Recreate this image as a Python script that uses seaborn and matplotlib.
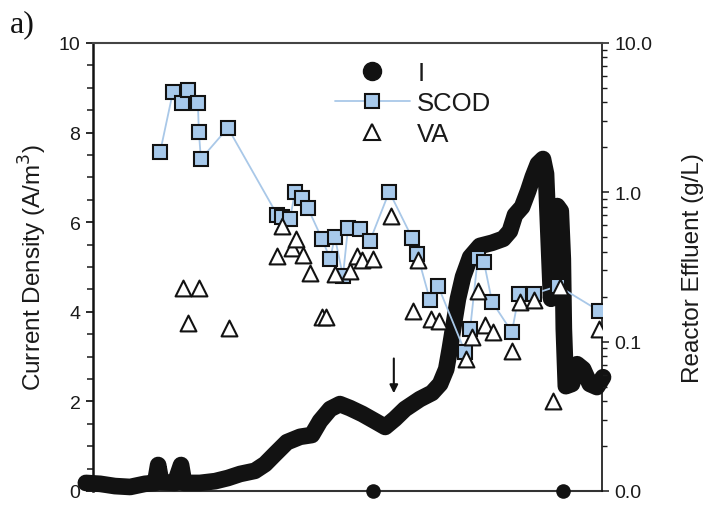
import matplotlib
matplotlib.use("Agg")
import matplotlib.pyplot as plt
import seaborn as sns
import pandas as pd
from matplotlib.lines import Line2D
from matplotlib.ticker import FixedLocator, MultipleLocator, FormatStrFormatter, LogLocator, NullFormatter

# ---------------- data ----------------
# current density trace (time in arbitrary units 0-100, A/m3)
current_time = [-1.4, 1.4, 4.3, 7.3, 10.2, 12.2, 12.8, 13.4, 16.1, 17.3, 17.9, 21.0,
                24.0, 26.5, 28.9, 31.8, 33.8, 35.8, 38.1, 40.7, 43.0, 44.6, 46.6,
                48.5, 50.5, 52.9, 55.4, 57.4, 59.3, 61.3, 64.2, 66.6, 68.2, 69.4,
                70.1, 70.9, 71.7, 72.7, 74.1, 76.0, 78.4, 80.6, 81.9, 82.9, 84.3,
                85.5, 86.4, 87.4, 88.4, 89.0, 89.6, 90.0, 90.6, 91.2, 91.9, 92.3,
                92.5, 92.9, 94.1, 95.1, 96.3, 97.6, 99.0, 100.2]
current_density = [0.18, 0.16, 0.11, 0.09, 0.16, 0.18, 0.58, 0.20, 0.18, 0.58, 0.18, 0.18,
                   0.22, 0.29, 0.38, 0.45, 0.60, 0.83, 1.09, 1.21, 1.25, 1.56, 1.83,
                   1.94, 1.85, 1.72, 1.56, 1.43, 1.61, 1.83, 2.05, 2.19, 2.39, 2.72,
                   3.17, 3.73, 4.29, 4.78, 5.22, 5.47, 5.54, 5.63, 5.80, 6.16, 6.34,
                   6.70, 7.01, 7.30, 7.41, 7.08, 5.40, 4.29, 5.40, 6.36, 6.25, 5.18,
                   3.62, 2.34, 2.39, 2.83, 2.72, 2.39, 2.32, 2.54]

# SCOD in reactor effluent (g/L)
scod_time = [13.2, 15.7, 17.5, 18.7, 20.6, 20.8, 21.2, 26.5, 36.2, 37.1, 38.7, 39.7,
             41.1, 42.2, 45.0, 46.6, 47.5, 49.1, 50.1, 52.5, 54.4, 58.2, 62.7, 63.7,
             66.2, 67.8, 73.1, 74.1, 75.6, 76.8, 78.4, 82.3, 83.7, 86.6, 91.4, 99.4]
scod_gL = [1.87, 4.70, 3.97, 4.85, 3.97, 2.54, 1.67, 2.70, 0.706, 0.684, 0.663, 1.01,
           0.917, 0.786, 0.487, 0.358, 0.503, 0.275, 0.578, 0.569, 0.472, 1.01, 0.495,
           0.387, 0.190, 0.236, 0.0853, 0.122, 0.364, 0.342, 0.185, 0.116, 0.209,
           0.209, 0.236, 0.161]

# volatile acids in reactor effluent (g/L)
va_time = [17.7, 18.7, 20.8, 26.7, 36.2, 37.1, 39.1, 39.9, 41.3, 42.6, 45.0, 45.8,
           47.5, 50.5, 51.9, 52.9, 55.0, 58.6, 62.9, 63.9, 66.4, 68.0, 73.3, 74.5,
           75.6, 77.0, 78.6, 82.3, 83.9, 86.6, 90.4, 91.8, 99.4]
va_gL = [0.229, 0.134, 0.229, 0.124, 0.375, 0.596, 0.424, 0.487, 0.381, 0.288, 0.146,
         0.146, 0.284, 0.298, 0.375, 0.353, 0.358, 0.695, 0.161, 0.353, 0.142, 0.138,
         0.0766, 0.108, 0.219, 0.129, 0.116, 0.0867, 0.185, 0.190, 0.0401, 0.232, 0.122]

# events marked on the time axis
event_time = [55.0, 92.3]
event_level = [0.0, 0.0]

left_ticks = [0, 2, 4, 6, 8, 10]

# ---------------- styling ----------------
sns.set_style("ticks")
plt.rcParams['font.family'] = ['Liberation Sans', 'DejaVu Sans']
plt.rcParams['text.color'] = '#1a1a1a'
plt.rcParams['axes.labelcolor'] = '#1a1a1a'
plt.rcParams['xtick.color'] = '#1a1a1a'
plt.rcParams['ytick.color'] = '#1a1a1a'

BLUE = '#a7c9eb'
LINEBLUE = '#a9c8e8'
BLACK = '#121212'

fig = plt.figure(figsize=(7.06, 5.06), dpi=100)
ax = fig.add_axes([93 / 706, 14 / 506, 509 / 706, 448 / 506])
ax2 = ax.twinx()

cur = pd.DataFrame({'t': current_time, 'I': current_density})
sns.lineplot(data=cur, x='t', y='I', ax=ax, sort=False, estimator=None,
             color=BLACK, lw=12, solid_capstyle='round', solid_joinstyle='round',
             clip_on=False, zorder=3)

sns.scatterplot(x=event_time, y=event_level, ax=ax, color=BLACK, s=110,
                edgecolor=BLACK, linewidth=0, clip_on=False, zorder=5)

ax.annotate('', xy=(59.1, 2.12), xytext=(59.1, 3.02),
            arrowprops=dict(arrowstyle='-|>', color=BLACK, lw=1.5, mutation_scale=12))

scod = pd.DataFrame({'t': scod_time, 'c': scod_gL})
sns.lineplot(data=scod, x='t', y='c', ax=ax2, sort=False, estimator=None,
             color=LINEBLUE, lw=1.3, marker='s', markersize=10,
             markerfacecolor=BLUE, markeredgecolor=BLACK, markeredgewidth=1.5, zorder=4)

va = pd.DataFrame({'t': va_time, 'c': va_gL})
sns.scatterplot(data=va, x='t', y='c', ax=ax2, marker='^', s=130, color='white',
                edgecolor=BLACK, linewidth=1.5, zorder=5)

# axes limits and ticks
ax.set_xlim(0, 100)
ax.set_ylim(0, 10)
ax2.set_yscale('log')
ax2.set_ylim(0.01, 10)

ax.set_xticks([])
ax.set_xlabel('')
ax2.set_xlabel('')
ax.yaxis.set_major_locator(FixedLocator(left_ticks))
ax.yaxis.set_minor_locator(MultipleLocator(0.5))
ax.tick_params(axis='y', which='major', direction='out', length=5, width=1.3,
               labelsize=14, pad=4)
ax.tick_params(axis='y', which='minor', direction='out', length=4, width=1.1)

ax2.yaxis.set_major_locator(LogLocator(base=10, numticks=10))
ax2.yaxis.set_minor_locator(LogLocator(base=10, subs=range(2, 10), numticks=10))
ax2.yaxis.set_major_formatter(FormatStrFormatter('%.1f'))
ax2.yaxis.set_minor_formatter(NullFormatter())
ax2.tick_params(axis='y', which='major', direction='out', length=5, width=1.1,
                labelsize=14, pad=4)
ax2.tick_params(axis='y', which='minor', direction='out', length=3.5, width=1.0)

ax.set_ylabel('Current Density (A/m$^3$)', fontsize=17.5, labelpad=7)
ax2.set_ylabel('Reactor Effluent (g/L)', fontsize=17.5, labelpad=21)

for side in ['top', 'right']:
    ax.spines[side].set_visible(False)
ax.spines['left'].set_linewidth(1.8)
ax.spines['left'].set_color(BLACK)
ax.spines['bottom'].set_linewidth(1.5)
ax.spines['bottom'].set_color('#333333')
for side in ['left', 'bottom']:
    ax2.spines[side].set_visible(False)
ax2.spines['top'].set_visible(True)
ax2.spines['top'].set_linewidth(1.5)
ax2.spines['top'].set_color('#444444')
ax2.spines['right'].set_linewidth(1.2)
ax2.spines['right'].set_color(BLACK)

handles = [
    Line2D([], [], ls='none', marker='o', markersize=13, color=BLACK),
    Line2D([], [], color=LINEBLUE, lw=1.3, marker='s', markersize=10,
           markerfacecolor=BLUE, markeredgecolor=BLACK, markeredgewidth=1.5),
    Line2D([], [], ls='none', marker='^', markersize=11, markerfacecolor='white',
           markeredgecolor=BLACK, markeredgewidth=1.5),
]
leg = ax2.legend(handles, ['I', 'SCOD', 'VA'], loc='upper left',
                 bbox_to_anchor=(335 / 706, 1 - 62 / 506), bbox_transform=fig.transFigure,
                 frameon=False, fontsize=18.5, handlelength=2.9, handletextpad=0.3,
                 labelspacing=0.25, borderpad=0, borderaxespad=0)

fig.text(10 / 706, 1 - 32 / 506, 'a)', family=['Liberation Serif', 'DejaVu Serif'],
         fontsize=23, va='baseline', ha='left', color=BLACK)

fig.savefig('out.png', dpi=100)
